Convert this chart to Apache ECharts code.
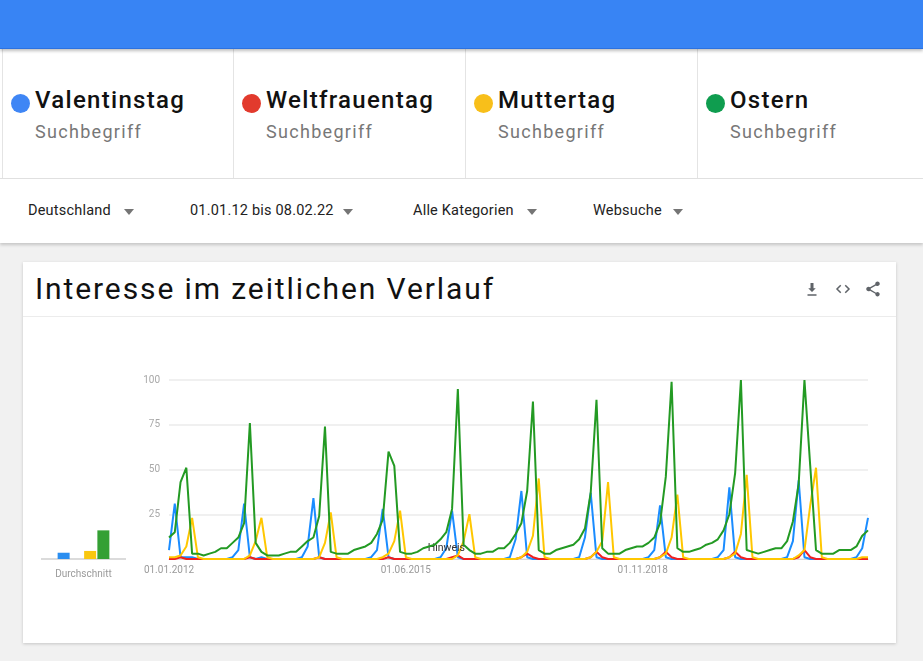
<!DOCTYPE html>
<html>
<head>
<meta charset="utf-8">
<script src="https://cdn.jsdelivr.net/npm/echarts@6/dist/echarts.min.js"></script>
<style>
  html, body { margin: 0; padding: 0; width: 923px; height: 661px; overflow: hidden; background: #f1f1f1; font-family: Roboto, "Noto Sans", sans-serif; }
  .abs { position: absolute; }
  #header { left: 0; top: 0; width: 923px; height: 48px; background: #3884f4; box-shadow: 0 2px 3px rgba(0,0,0,0.25); z-index: 3; border-bottom: 1px solid #2c72e0; }
  #legendRow { left: 0; top: 49px; width: 923px; height: 129px; background: #fff; border-bottom: 1px solid #e2e2e2; }
  .card { position: absolute; top: 0; height: 129px; border-left: 1px solid #e4e4e4; }
  .dot { position: absolute; left: 8px; top: 45px; width: 19px; height: 19px; border-radius: 50%; }
  .term { position: absolute; left: 32px; top: 37px; font-size: 24px; font-weight: 500; color: #111; white-space: nowrap; letter-spacing: 1.3px; }
  .sub { position: absolute; left: 32px; top: 72px; font-size: 18px; font-weight: 400; color: #777; white-space: nowrap; letter-spacing: 1.3px; }
  #filterRow { left: 0; top: 179px; width: 923px; height: 64px; background: #fff; box-shadow: 0 2px 3px rgba(0,0,0,0.18); }
  .flt { position: absolute; top: 23px; font-size: 14.5px; color: #222; white-space: nowrap; letter-spacing: 0.2px; }
  .arr { position: absolute; top: 30px; width: 0; height: 0; border-left: 5px solid transparent; border-right: 5px solid transparent; border-top: 6px solid #757575; }
  #chartCard { left: 23px; top: 262px; width: 873px; height: 381px; background: #fff; box-shadow: 0 1px 3px rgba(0,0,0,0.18); }
  #chartTitle { position: absolute; left: 12px; top: 9px; font-size: 30px; color: #111; white-space: nowrap; letter-spacing: 1.9px; }
  #sep { position: absolute; left: 0; top: 54px; width: 873px; height: 1px; background: #ececec; }
  .icon { position: absolute; top: 18px; width: 18px; height: 18px; }
  #chart { position: absolute; left: 0; top: 0; width: 923px; height: 661px; z-index: 5; }
</style>
</head>
<body>
<div id="header" class="abs"></div>
<div id="legendRow" class="abs">
  <div class="card" style="left:2px;width:231px;"><div class="dot" style="background:#3f86f5"></div><div class="term">Valentinstag</div><div class="sub">Suchbegriff</div></div>
  <div class="card" style="left:233px;width:231px;"><div class="dot" style="background:#e23a2d"></div><div class="term">Weltfrauentag</div><div class="sub">Suchbegriff</div></div>
  <div class="card" style="left:465px;width:231px;"><div class="dot" style="background:#f8bf1a"></div><div class="term">Muttertag</div><div class="sub">Suchbegriff</div></div>
  <div class="card" style="left:697px;width:226px;"><div class="dot" style="background:#0f9d4f"></div><div class="term">Ostern</div><div class="sub">Suchbegriff</div></div>
</div>
<div id="filterRow" class="abs">
  <div class="flt" style="left:28px">Deutschland</div><div class="arr" style="left:124px"></div>
  <div class="flt" style="left:190px">01.01.12 bis 08.02.22</div><div class="arr" style="left:343px"></div>
  <div class="flt" style="left:413px">Alle Kategorien</div><div class="arr" style="left:527px"></div>
  <div class="flt" style="left:593px">Websuche</div><div class="arr" style="left:673px"></div>
</div>
<div id="chartCard" class="abs">
  <div id="chartTitle">Interesse im zeitlichen Verlauf</div>
  <svg class="icon" style="left:780px" viewBox="0 0 24 24"><path fill="#5f6368" d="M17 11h-3V4h-4v7H7l5 5 5-5zM6 19v2h12v-2H6z"/></svg>
  <svg class="icon" style="left:811px" viewBox="0 0 24 24"><path fill="none" stroke="#5f6368" stroke-width="2" d="M9 7l-5 5 5 5M15 7l5 5-5 5"/></svg>
  <svg class="icon" style="left:841px" viewBox="0 0 24 24"><path fill="#5f6368" d="M18 16.08c-.76 0-1.440.3-1.960.77L8.91 12.7c.05-.23.09-.46.09-.7s-.04-.47-.09-.7l7.050-4.110c.54.5 1.250.81 2.040.81 1.660 0 3-1.340 3-3s-1.340-3-3-3-3 1.340-3 3c0 .24.04.47.09.7L8.04 9.81C7.5 9.31 6.79 9 6 9c-1.660 0-3 1.340-3 3s1.340 3 3 3c.79 0 1.500-.31 2.040-.81l7.120 4.160c-.05.21-.08.43-.08.65 0 1.610 1.310 2.920 2.920 2.920s2.920-1.310 2.920-2.920-1.310-2.920-2.920-2.920z"/></svg>
  <div id="sep"></div>
</div>
<div id="chart"></div>
<script>
// ---- Data (monthly, Jan 2012 – Feb 2022) ----
const seriesNames = ['Valentinstag', 'Weltfrauentag', 'Muttertag', 'Ostern'];

const valentinstag = [
  5,31,1,1,1,0,0,0,0,0,0,1,
  5,31,1,0,1,0,0,0,0,0,0,1,
  7,34,1,0,0,0,0,0,0,0,0,1,
  5,28,1,0,0,0,0,0,0,0,0,1,
  6,27,1,0,0,0,0,0,0,0,0,1,
  11,38,1,0,0,0,0,0,0,0,0,1,
  12,37,1,0,0,0,0,0,0,0,0,1,
  5,30,1,0,0,0,0,0,0,0,0,1,
  5,40,1,0,0,0,0,0,0,0,0,1,
  10,44,1,0,0,0,0,0,0,0,0,1,
  6,23
];
const weltfrauentag = [
  0,0,1,0,0,0,0,0,0,0,0,0,
  0,0,1,0,0,0,0,0,0,0,0,0,
  0,0,1,0,0,0,0,0,0,0,0,0,
  0,0,1,0,0,0,0,0,0,0,0,0,
  0,1,2,0,0,0,0,0,0,0,0,0,
  0,1,3,1,0,0,0,0,0,0,0,0,
  0,1,4,1,0,0,0,0,0,0,0,0,
  0,1,4,1,0,0,0,0,0,0,0,0,
  0,1,4,1,0,0,0,0,0,0,0,0,
  0,1,5,1,0,0,0,0,0,0,0,0,
  0,0
];
const muttertag = [
  1,1,2,7,23,1,0,0,0,0,0,0,
  0,0,2,10,23,1,0,0,0,0,0,0,
  0,0,1,9,26,1,0,0,0,0,0,0,
  0,1,3,10,27,1,0,0,0,0,0,0,
  0,0,2,10,25,1,0,0,0,0,0,0,
  0,1,4,13,45,1,0,0,0,0,0,0,
  0,1,4,10,43,1,0,0,0,0,0,0,
  0,1,3,12,36,1,0,0,0,0,0,0,
  0,1,3,14,47,1,0,0,0,0,0,0,
  0,2,5,30,51,1,0,0,0,0,0,0,
  1,1
];
const ostern = [
  12,15,43,51,3,3,2,3,4,6,6,9,
  12,20,76,9,4,2,2,2,3,4,4,7,
  10,12,24,74,4,3,3,3,5,6,7,9,
  14,22,60,52,4,3,3,4,6,7,8,11,
  15,28,95,8,5,3,3,4,4,6,6,9,
  14,20,38,88,5,3,3,5,6,7,8,11,
  17,37,89,6,3,3,3,5,6,7,7,9,
  12,20,46,99,6,4,4,5,6,8,9,11,
  16,25,48,100,5,4,3,4,5,6,6,10,
  21,42,100,52,5,3,3,3,5,5,5,7,
  13,16
];
const averages = [3.5, 0, 4.5, 16];   // Durchschnitt bars
const startYear = 2012, startMonth = 1, monthCount = 122;

const months = [];
for (let k = 0; k < monthCount; k++) {
  const m = (startMonth - 1 + k) % 12 + 1;
  const y = startYear + Math.floor((startMonth - 1 + k) / 12);
  months.push('01.' + String(m).padStart(2, '0') + '.' + y);
}

const lineColors = ['#1a8cff', '#f01f1f', '#ffc700', '#239a23'];
const barColors = ['#2b8ef0', '#f01f1f', '#f9c70f', '#34a034'];

const chart = echarts.init(document.getElementById('chart'), null, { renderer: 'canvas' });

const lineSeries = [valentinstag, weltfrauentag, muttertag, ostern].map((d, i) => ({
  name: seriesNames[i],
  type: 'line',
  xAxisIndex: 0, yAxisIndex: 0,
  data: d,
  showSymbol: false,
  symbol: 'none',
  lineStyle: { width: 2, color: lineColors[i] },
  itemStyle: { color: lineColors[i] },
  z: 2 + i,
  animation: false
}));
lineSeries[3].markPoint = {
  symbol: 'circle', symbolSize: 1,
  itemStyle: { color: 'rgba(0,0,0,0)' },
  label: { show: true, position: 'inside', formatter: 'Hinweis', color: '#333', fontSize: 10.5, fontFamily: 'Roboto' },
  data: [{ coord: [months[48], 6] }]
};

chart.setOption({
  animation: false,
  backgroundColor: 'transparent',
  grid: [
    { left: 169, right: 55, top: 380, bottom: 102, containLabel: false },
    { left: 57, width: 53, top: 380, bottom: 102, containLabel: false }
  ],
  xAxis: [
    {
      type: 'category', gridIndex: 0, data: months, boundaryGap: false,
      axisLine: { show: true, lineStyle: { color: '#d6d6d6' } },
      axisTick: { show: false },
      axisLabel: { interval: 40, color: '#9a9a9a', fontSize: 10, fontFamily: 'Roboto', margin: 6 }
    },
    {
      type: 'category', gridIndex: 1, data: seriesNames,
      axisLine: { show: false }, axisTick: { show: false }, axisLabel: { show: false },
      name: 'Durchschnitt', nameLocation: 'middle', nameGap: 10,
      nameTextStyle: { color: '#9a9a9a', fontSize: 10, fontFamily: 'Roboto' }
    }
  ],
  yAxis: [
    {
      type: 'value', gridIndex: 0, min: 0, max: 100, interval: 25,
      axisLine: { show: false }, axisTick: { show: false },
      axisLabel: { color: '#a8a8a8', fontSize: 10, fontFamily: 'Roboto', margin: 9,
        formatter: v => (v === 0 ? '' : String(v)) },
      splitLine: { lineStyle: { color: '#ebebeb', width: 1.5 } }
    },
    {
      type: 'value', gridIndex: 1, min: 0, max: 100, show: false
    }
  ],
  graphic: [
    { type: 'line', shape: { x1: 41, y1: 559, x2: 126, y2: 559 }, style: { stroke: '#cfcfcf', lineWidth: 1.5 }, z: 1 }
  ],
  series: lineSeries.concat([{
    type: 'bar', xAxisIndex: 1, yAxisIndex: 1, barWidth: 12,
    data: averages.map((v, i) => ({ value: v, itemStyle: { color: barColors[i] } })),
    z: 3
  }])
});
</script>
</body>
</html>
